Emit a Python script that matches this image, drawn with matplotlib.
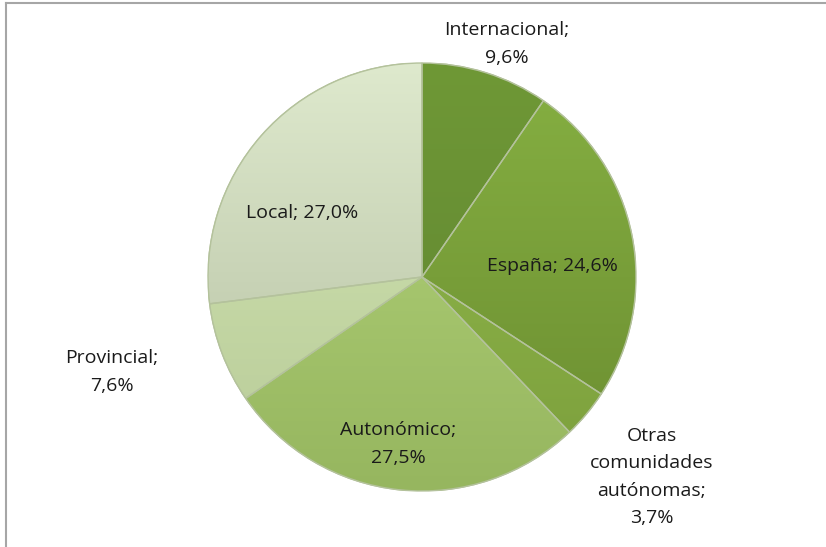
import matplotlib
matplotlib.use("Agg")
import matplotlib.pyplot as plt
import numpy as np
from matplotlib.lines import Line2D
from matplotlib.patches import Wedge
from matplotlib.colors import LinearSegmentedColormap

categories = ["Internacional", "España", "Otras comunidades autónomas", "Autonómico", "Provincial", "Local"]
values = [9.6, 24.6, 3.7, 27.5, 7.6, 27.0]
colors = ["#6a8f34", "#7ea53b", "#8ab248", "#a8c96d", "#c7dba6", "#cfdcba"]
top_colors = ["#6f9836", "#86b042", "#93bb4e", "#b5d57c", "#d2e5b3", "#dee9cd"]
bottom_colors = ["#5f8431", "#6a8c30", "#7c9f3c", "#96b65f", "#b8cb98", "#b3bea0"]

labels = [
    "Internacional;\n9,6%",
    "España; 24,6%",
    "Otras\ncomunidades\nautónomas;\n3,7%",
    "Autonómico;\n27,5%",
    "Provincial;\n7,6%",
    "Local; 27,0%",
]
# label centers in pixels (x, y from top)
label_px = [(507, 44), (552, 266), (652, 477), (398, 444), (112, 372), (302, 213)]

W, H = 826, 547
fig = plt.figure(figsize=(W / 100, H / 100), dpi=100)
cx, cy, r = 422, 277, 214
ax = fig.add_axes([(cx - r) / W, (H - cy - r) / H, 2 * r / W, 2 * r / H])
wedges, _ = ax.pie(values, colors=colors, startangle=90, counterclock=False,
                   radius=1.0, center=(0, 0),
                   wedgeprops=dict(edgecolor="#b4c29c", linewidth=1.0))
grad = np.linspace(1, 0, 256).reshape(-1, 1)
for w, tc, bc in zip(wedges, top_colors, bottom_colors):
    cmap = LinearSegmentedColormap.from_list("g", [bc, tc])
    im = ax.imshow(grad, extent=[-1, 1, -1, 1], cmap=cmap, aspect="auto",
                   origin="upper", zorder=w.get_zorder() + 0.1,
                   interpolation="bilinear")
    im.set_clip_path(w)
    outline = Wedge(w.center, w.r, w.theta1, w.theta2, facecolor="none",
                    edgecolor="#b4c29c", linewidth=1.0, zorder=w.get_zorder() + 0.2)
    ax.add_patch(outline)
ax.set_xlim(-1, 1)
ax.set_ylim(-1, 1)
ax.set_aspect("equal")
ax.axis("off")

for txt, (px, py) in zip(labels, label_px):
    fig.text(px / W, 1 - py / H, txt, ha="center", va="center",
             fontsize=14, family=["Open Sans", "DejaVu Sans"], color="#1a1a1a",
             linespacing=1.65)

fig.add_artist(Line2D([6 / W, 1], [1 - 3 / H, 1 - 3 / H], color="#a6a6a6", lw=1.5,
                      transform=fig.transFigure))
fig.add_artist(Line2D([6 / W, 6 / W], [0, 1 - 3 / H], color="#a6a6a6", lw=1.5,
                      transform=fig.transFigure))

fig.savefig("out.png", dpi=100, facecolor="white")
